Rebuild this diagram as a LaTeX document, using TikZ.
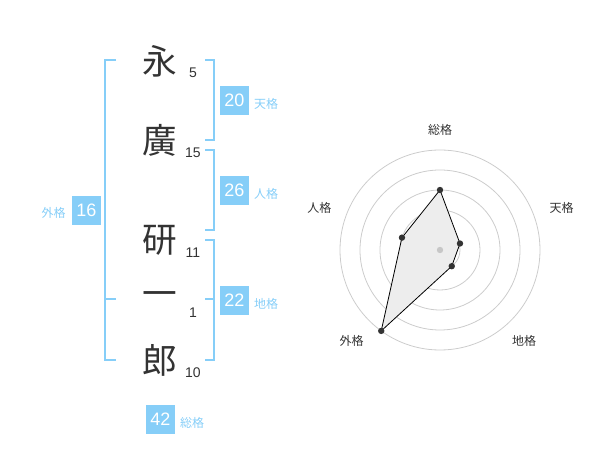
\documentclass[tikz,border=0pt]{standalone}
\usepackage{fontspec}
\setmainfont{Liberation Sans}
\newfontfamily\jpfont{Noto Sans CJK JP}
\usetikzlibrary{positioning}
\definecolor{kakublue}{HTML}{86CEF8}
\definecolor{inkgrey}{HTML}{333333}

\begin{document}
\begin{tikzpicture}[
	x=0.75pt,
	y=-0.75pt,
	kanji/.style={
		font=\jpfont\fontsize{26}{26}\selectfont,
		text=inkgrey,
		inner sep=0
		},
	strokes/.style={
		font=\fontsize{10.5}{10.5}\selectfont,
		text=inkgrey,
		inner sep=0
		},
	score/.style={
		fill=kakublue,
		text=white,
		minimum size=21.75pt,
		inner sep=0,
		font=\fontsize{13.5}{13.5}\selectfont
		},
	kaku/.style={
		font=\jpfont\fontsize{9}{9}\selectfont,
		text=kakublue,
		inner sep=0
		},
	bracket/.style={
		draw=kakublue,
		line width=1.5pt
		},
	ring/.style={
		draw=black!20,
		line width=0.6pt
		},
	web/.style={
		draw=black,
		line width=0.6pt,
		fill=black!7
		},
	axislabel/.style={
		font=\jpfont\fontsize{9}{9}\selectfont,
		text=inkgrey,
		inner sep=0
		}
]
\useasboundingbox (0,0) rectangle (600,470);

% Name
\node [kanji] (Char 1) at (160,61) {永};
\node [kanji] (Char 2) at (160,140) {廣};
\node [kanji] (Char 3) at (160,240) {研};
\node [kanji] (Char 4) at (160,299) {一};
\node [kanji] (Char 5) at (160,360) {郎};

% Strokes
\node [strokes] (Stroke 1) at (193,73) {5};
\node [strokes] (Stroke 2) at (193,153) {15};
\node [strokes] (Stroke 3) at (193,253) {11};
\node [strokes] (Stroke 4) at (193,313) {1};
\node [strokes] (Stroke 5) at (193,373) {10};

% Brackets
\draw [bracket] (116,60) -- (105,60) -- (105,360) -- (116,360);
\draw [bracket] (105,299) -- (116,299);
\draw [bracket] (205,60) -- (214,60) -- (214,140) -- (205,140);
\draw [bracket] (205,150) -- (214,150) -- (214,230) -- (205,230);
\draw [bracket] (205,240) -- (214,240) -- (214,360) -- (205,360);
\draw [bracket] (205,299) -- (214,299);

% Scores
\node [score] (Ten) at (234.5,100.5) {20};
\node [kaku] (Ten label) at (266,104) {天格};
\node [score] (Jin) at (234.5,190.5) {26};
\node [kaku] (Jin label) at (266,194) {人格};
\node [score] (Chi) at (234.5,300.5) {22};
\node [kaku] (Chi label) at (266,304) {地格};
\node [score] (Gai) at (86.5,210.5) {16};
\node [kaku] (Gai label) at (53.5,213) {外格};
\node [score] (Sou) at (160.5,419.5) {42};
\node [kaku] (Sou label) at (192,423) {総格};

% Radar
\begin{scope}[shift={(440,250)}, y=0.75pt]
\foreach \r in {20,40,...,100}
	\draw [ring] (0,0) circle [radius={\r*0.75pt}];
\coordinate (Sou pt) at (90:60);
\coordinate (Ten pt) at (18:21);
\coordinate (Chi pt) at (-54:20);
\coordinate (Gai pt) at (-126:100);
\coordinate (Jin pt) at (162:40);
\draw [web] (Sou pt) -- (Ten pt) -- (Chi pt) -- (Gai pt) -- (Jin pt) -- cycle;
\fill [black!22] (0,0) circle [radius=2.4pt];
\foreach \p in {Sou pt,Ten pt,Chi pt,Gai pt,Jin pt}
	\fill [inkgrey] (\p) circle [radius=2.4pt];
\node [axislabel] (Sou axis) at (0,120) {総格};
\node [axislabel] (Ten axis) at (121.7,41.7) {天格};
\node [axislabel] (Chi axis) at (84,-91) {地格};
\node [axislabel] (Gai axis) at (-88.3,-91) {外格};
\node [axislabel] (Jin axis) at (-120.7,41.7) {人格};
\end{scope}
\end{tikzpicture}
\end{document}
